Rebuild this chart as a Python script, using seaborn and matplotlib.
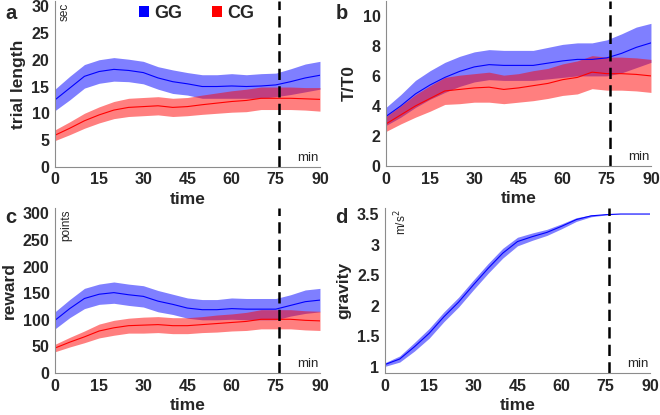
import matplotlib
matplotlib.use("Agg")  # no display in the sandbox
import matplotlib.pyplot as plt
from matplotlib.patches import Patch
import numpy as np
import pandas as pd
import seaborn as sns

# ------------------------------------------------------------------
# Data (every 5 min)
# ------------------------------------------------------------------
TIME = [0, 5, 10, 15, 20, 25, 30, 35, 40, 45, 50, 55, 60, 65, 70, 75, 80, 85, 90]

GG_TRIAL = [12.5, 14.7, 16.9, 17.8, 18.2, 18.0, 17.6, 16.6, 15.9, 15.5, 15.0, 15.0, 15.1, 15.0, 15.1, 15.3, 15.9, 16.6, 17.1]
GG_TRIAL_SEM = [2.0, 2.2, 2.2, 2.2, 2.2, 2.1, 2.1, 2.1, 2.2, 2.1, 2.2, 2.2, 2.3, 2.2, 2.3, 2.2, 2.4, 2.6, 2.6]
CG_TRIAL = [5.9, 7.2, 8.6, 9.7, 10.6, 11.1, 11.25, 11.4, 11.1, 11.25, 11.6, 11.9, 12.2, 12.4, 12.8, 12.8, 12.8, 12.7, 12.6]
CG_TRIAL_SEM = [1.0, 1.2, 1.4, 1.5, 1.6, 1.7, 1.7, 1.7, 1.7, 1.7, 1.8, 1.9, 2.0, 2.1, 2.1, 2.1, 2.1, 2.1, 2.2]

GG_TT0 = [3.3, 4.0, 4.8, 5.4, 5.9, 6.3, 6.6, 6.75, 6.7, 6.7, 6.7, 6.85, 7.0, 7.1, 7.1, 7.2, 7.5, 7.9, 8.2]
GG_TT0_SEM = [0.6, 0.75, 0.9, 0.95, 1.0, 1.0, 1.0, 1.0, 1.0, 1.0, 1.0, 1.05, 1.1, 1.1, 1.1, 1.2, 1.3, 1.35, 1.3]
CG_TT0 = [2.8, 3.4, 4.0, 4.5, 5.0, 5.1, 5.2, 5.25, 5.1, 5.2, 5.35, 5.5, 5.75, 5.9, 6.25, 6.15, 6.15, 6.1, 6.0]
CG_TT0_SEM = [0.5, 0.6, 0.75, 0.85, 0.9, 0.95, 0.95, 1.0, 0.95, 0.95, 1.0, 1.0, 1.05, 1.1, 1.1, 1.1, 1.1, 1.1, 1.1]

GG_REWARD = [99, 121, 140, 148, 151, 147, 144, 135, 129, 122, 119, 119, 121, 120, 120, 120, 127, 134, 137]
GG_REWARD_SEM = [16, 17, 19, 19, 20, 20, 20, 20, 19, 19, 19, 19, 20, 20, 20, 20, 20, 22, 22]
CG_REWARD = [47, 58, 68, 79, 85, 89, 90, 91, 89, 89, 91, 93, 95, 97, 101, 101, 101, 99, 98]
CG_REWARD_SEM = [7, 9, 11, 13, 14, 14, 15, 15, 15, 15, 15, 16, 16, 17, 18, 18, 18, 18, 18]

GG_GRAVITY = [1.04, 1.13, 1.33, 1.55, 1.82, 2.06, 2.34, 2.61, 2.86, 3.05, 3.13, 3.20, 3.30, 3.41, 3.47, 3.49, 3.50, 3.50, 3.50]
GG_GRAVITY_SEM = [0.03, 0.05, 0.07, 0.08, 0.08, 0.08, 0.08, 0.08, 0.08, 0.07, 0.06, 0.05, 0.04, 0.03, 0.015, 0.005, 0.0, 0.0, 0.0]

SWITCH_TIME = 76

BLUE = "#0000FF"
RED = "#FF0000"
TXT = "#262626"
SPINE = "#8c8c8c"

sns.set_style("white")
plt.rcParams["font.family"] = ["Liberation Sans", "DejaVu Sans"]


def draw_panel(ax, series, ylim, yticks, ylabel, unit, unit_x, yticklabels=None):
    for name, mean, sem, colour in series:
        mean = np.asarray(mean, dtype=float)
        sem = np.asarray(sem, dtype=float)
        ax.fill_between(TIME, mean - sem, mean + sem, color=colour,
                        alpha=0.5, linewidth=0)
        df = pd.DataFrame({"time": TIME, "value": mean})
        sns.lineplot(data=df, x="time", y="value", ax=ax, color=colour,
                     linewidth=0.8, legend=False)
    ax.axvline(SWITCH_TIME, color="black", linewidth=1.8, dashes=(4.5, 2.5))
    ax.set_xlim(0, 90)
    ax.set_ylim(*ylim)
    ax.set_xticks(range(0, 91, 15))
    ax.set_yticks(yticks)
    if yticklabels is not None:
        ax.set_yticklabels(yticklabels)
    ax.set_xlabel("time", fontsize=12.5, fontweight="bold", color=TXT, labelpad=3)
    ax.set_ylabel(ylabel, fontsize=12.5, fontweight="bold", color=TXT, labelpad=4)
    ax.tick_params(direction="in", length=3, width=0.6, color=SPINE,
                   labelsize=11.5, labelcolor=TXT, pad=4)
    for lab in ax.get_xticklabels() + ax.get_yticklabels():
        lab.set_fontweight("bold")
    for side in ("top", "right"):
        ax.spines[side].set_visible(False)
    for side in ("left", "bottom"):
        ax.spines[side].set_color(SPINE)
        ax.spines[side].set_linewidth(0.8)
    ax.text(unit_x, 0.99, unit, rotation=90, ha="center", va="top",
            fontsize=8.5, color=TXT, transform=ax.transAxes)
    ax.text(0.995, 0.02, "min", ha="right", va="bottom", fontsize=9.5,
            color=TXT, transform=ax.transAxes)


fig = plt.figure(figsize=(6.6, 4.15), dpi=100)
ax_a = fig.add_axes([0.0833, 0.598, 0.4015, 0.400])
ax_b = fig.add_axes([0.5848, 0.600, 0.4015, 0.398])
ax_c = fig.add_axes([0.0833, 0.101, 0.4015, 0.398])
ax_d = fig.add_axes([0.5833, 0.101, 0.4015, 0.398])

draw_panel(ax_a, [("GG", GG_TRIAL, GG_TRIAL_SEM, BLUE), ("CG", CG_TRIAL, CG_TRIAL_SEM, RED)],
           (0, 31), range(0, 31, 5), "trial length", "sec", 0.037)
draw_panel(ax_b, [("GG", GG_TT0, GG_TT0_SEM, BLUE), ("CG", CG_TT0, CG_TT0_SEM, RED)],
           (0, 11), range(0, 11, 2), "T/T0", "", 0.035)
draw_panel(ax_c, [("GG", GG_REWARD, GG_REWARD_SEM, BLUE), ("CG", CG_REWARD, CG_REWARD_SEM, RED)],
           (0, 310), range(0, 301, 50), "reward", "points", 0.042)
draw_panel(ax_d, [("GG", GG_GRAVITY, GG_GRAVITY_SEM, BLUE)],
           (0.9, 3.6), [1, 1.5, 2, 2.5, 3, 3.5], "gravity", "m/s$^2$", 0.06,
           yticklabels=["1", "1.5", "2", "2.5", "3", "3.5"])

for label, x, y in [("a", 0.008, 0.968), ("b", 0.508, 0.968), ("c", 0.008, 0.475), ("d", 0.508, 0.475)]:
    fig.text(x, y, label, fontsize=14.5, fontweight="bold", color=TXT, ha="left", va="center")

handles = [Patch(facecolor=BLUE, edgecolor="none", label="GG"),
           Patch(facecolor=RED, edgecolor="none", label="CG")]
fig.legend(handles=handles, loc="center", bbox_to_anchor=(0.298, 0.968), ncol=2,
           frameon=False, handlelength=0.55, handleheight=0.55, handletextpad=0.3,
           columnspacing=1.6, prop={"size": 13, "weight": "bold"}, labelcolor=TXT)

fig.savefig("out.png", dpi=100)
plt.close(fig)
